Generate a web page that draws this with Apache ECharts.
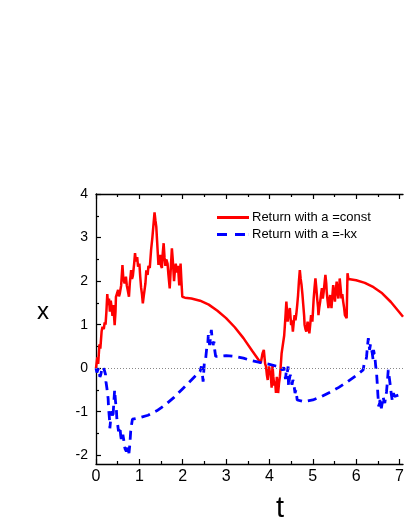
<!DOCTYPE html>
<html>
<head>
<meta charset="utf-8">
<script src="https://cdn.jsdelivr.net/npm/echarts@6.0.0/dist/echarts.min.js"></script>
<style>
html,body{margin:0;padding:0;background:#fff;}
#c{width:407px;height:527px;}
</style>
</head>
<body>
<div id="c"></div>
<script>
// Series 1: Return with a =const
var constT = [0.00,0.03,0.05,0.08,0.10,0.13,0.15,0.18,0.20,0.22,0.24,0.26,0.28,0.30,0.32,0.34,0.36,0.38,0.40,0.43,0.45,0.46,0.49,0.51,0.53,0.55,0.58,0.61,0.63,0.66,0.69,0.71,0.73,0.76,0.78,0.81,0.83,0.85,0.88,0.90,0.92,0.95,0.97,1.00,1.02,1.04,1.06,1.08,1.10,1.12,1.14,1.16,1.19,1.21,1.24,1.27,1.30,1.33,1.35,1.37,1.39,1.41,1.44,1.46,1.48,1.50,1.52,1.54,1.56,1.58,1.60,1.62,1.65,1.67,1.70,1.72,1.75,1.77,1.80,1.82,1.84,1.86,1.89,1.92,1.95,1.97,1.99,
  2.05,2.2,2.4,2.6,2.8,3.0,3.2,3.4,3.6,3.8,
  3.84,3.87,3.90,3.92,3.94,3.96,3.99,4.01,4.03,4.05,4.07,4.09,4.11,4.13,4.15,4.17,4.20,4.22,4.24,4.26,4.28,4.30,4.34,4.37,4.39,4.42,4.44,4.47,4.50,4.52,4.54,4.56,4.58,4.60,4.62,4.64,4.66,4.68,4.70,4.72,4.74,4.76,4.78,4.80,4.81,4.83,4.85,4.87,4.88,4.90,4.92,4.94,4.96,4.99,5.02,5.04,5.06,5.08,5.10,5.12,5.13,5.15,5.17,5.19,5.21,5.23,5.25,5.27,5.29,5.31,5.32,5.34,5.36,5.38,5.40,5.42,5.43,5.45,5.47,5.49,5.51,5.53,5.55,5.57,5.59,5.61,5.62,5.64,5.66,5.68,5.70,5.72,5.74,5.78,5.80,5.82,
  6.0,6.2,6.4,6.6,6.8,7.0,7.08];
var constX = [0.00,0.25,0.10,0.55,0.45,0.85,0.95,0.90,1.05,1.00,1.30,1.70,1.45,1.60,1.30,1.55,1.40,1.20,1.45,0.99,1.30,1.64,1.60,1.80,1.65,1.72,1.90,2.37,2.05,1.95,2.10,1.90,1.80,1.64,1.95,2.25,2.05,2.12,2.40,2.64,2.45,2.55,2.33,2.40,2.10,1.85,1.70,1.49,1.65,1.80,1.95,2.25,2.14,2.35,2.30,2.71,3.00,3.35,3.58,3.40,3.25,2.90,2.37,2.55,2.60,2.35,2.30,2.65,2.87,2.55,2.35,2.50,2.40,2.15,1.83,2.20,2.75,2.50,2.00,2.25,2.40,2.20,2.35,1.90,2.40,2.00,1.64,
  1.62,1.60,1.55,1.46,1.32,1.15,0.94,0.69,0.40,0.12,
  0.34,0.42,0.10,0.04,-0.15,-0.27,0.04,-0.10,-0.15,-0.45,0.07,-0.20,-0.40,-0.30,-0.57,-0.20,-0.57,-0.35,-0.20,0.05,0.34,0.38,0.75,1.20,1.53,1.07,1.25,1.38,0.99,1.10,0.84,1.05,1.22,1.10,1.25,1.45,1.68,2.00,2.25,2.05,1.91,1.70,1.45,1.20,1.00,0.90,0.84,1.00,1.07,0.95,0.80,1.00,1.22,1.07,1.60,1.85,2.06,1.85,1.60,1.40,1.22,1.40,1.53,1.70,1.84,1.60,1.75,1.95,2.14,1.95,1.76,1.55,1.38,1.55,1.68,1.50,1.38,1.65,1.91,1.70,1.53,1.80,1.99,1.75,1.60,1.85,2.06,1.85,1.60,1.70,1.53,1.40,1.22,1.15,2.18,2.05,
  2.02,1.96,1.86,1.72,1.52,1.28,1.18];

// Series 2: Return with a =-kx
var kxT = [0.00,0.02,0.04,0.06,0.07,0.09,0.11,0.13,0.16,0.18,0.20,0.22,0.23,0.25,0.26,0.28,0.29,0.31,0.32,0.34,0.36,0.38,0.39,0.41,0.43,0.45,0.47,0.48,0.50,0.52,0.55,0.57,0.59,0.62,0.64,0.65,0.67,0.70,0.73,0.76,0.78,0.80,0.82,0.84,
  1.0,1.2,1.4,1.6,1.8,2.0,2.2,2.35,
  2.40,2.43,2.45,2.47,2.50,2.53,2.56,2.58,2.59,2.62,2.64,2.66,2.68,2.70,2.72,2.74,2.76,2.8,
  3.0,3.2,3.4,3.6,3.8,4.0,4.15,4.25,
  4.28,4.30,4.33,4.35,4.37,4.39,4.41,4.43,4.44,4.46,4.48,4.50,4.52,4.54,4.56,4.59,4.61,4.64,
  4.8,5.0,5.2,5.4,5.6,5.8,6.0,6.16,
  6.18,6.20,6.22,6.24,6.26,6.28,6.30,6.31,6.33,6.35,6.37,6.39,6.40,6.43,6.45,6.47,6.49,6.50,6.52,6.54,6.55,6.58,6.60,6.62,6.64,6.66,6.68,6.70,6.72,6.74,6.76,6.79,6.81,6.83,6.86,6.88,6.90,7.08];
var kxX = [0.00,-0.10,-0.11,0.00,-0.04,-0.20,-0.15,-0.05,-0.10,0.00,0.04,-0.15,-0.31,-0.45,-0.53,-0.70,-0.92,-1.15,-1.38,-1.15,-0.99,-1.05,-1.15,-0.80,-0.50,-0.76,-0.95,-1.15,-1.30,-1.45,-1.34,-1.55,-1.68,-1.53,-1.65,-1.76,-1.85,-1.91,-1.80,-1.95,-1.76,-1.45,-1.30,-1.17,
  -1.14,-1.08,-0.98,-0.84,-0.67,-0.47,-0.27,-0.12,
  -0.08,0.04,-0.10,-0.31,0.15,0.23,0.53,0.60,0.76,0.53,0.70,0.88,0.65,0.53,0.61,0.40,0.27,0.30,
  0.29,0.27,0.23,0.17,0.13,0.09,0.05,0.03,
  0.00,-0.05,0.02,-0.11,-0.25,-0.05,-0.11,0.04,-0.42,-0.25,-0.15,-0.30,-0.38,-0.27,-0.35,-0.57,-0.50,-0.73,
  -0.77,-0.73,-0.65,-0.55,-0.44,-0.31,-0.17,-0.04,
  0.08,0.04,0.15,0.27,0.50,0.69,0.50,0.42,0.55,0.57,0.35,0.19,0.42,0.27,0.05,-0.11,-0.42,-0.60,-0.88,-0.80,-0.73,-0.92,-0.80,-0.65,-0.75,-0.80,-0.65,-0.54,-0.30,-0.04,-0.19,-0.42,-0.60,-0.73,-0.57,-0.65,-0.62,-0.58];

var xTicks = [0, 1, 2, 3, 4, 5, 6, 7];
var xMinorTicks = [0.5, 1.5, 2.5, 3.5, 4.5, 5.5, 6.5];
var yTicks = [-2, -1, 0, 1, 2, 3, 4];
var yMinorTicks = [-1.5, -0.5, 0.5, 1.5, 2.5, 3.5];
var seriesNames = ['Return with a =const', 'Return with a =-kx'];

function zip(a, b) { var r = []; for (var i = 0; i < a.length; i++) r.push([a[i], b[i]]); return r; }

var FONT = 'Liberation Sans, Arial, sans-serif';
var XMIN = 0, XMAX = 7.08, YMIN = -2.2, YMAX = 4;

function xAx(pos, ticks, len, showLabel, showLine) {
  return {
    type: 'value', position: pos, min: XMIN, max: XMAX,
    axisLine: { show: showLine, onZero: false, lineStyle: { color: '#000', width: 1.3 } },
    axisTick: { show: true, inside: true, length: len, customValues: ticks, lineStyle: { color: '#000', width: 1.2 } },
    axisLabel: { show: showLabel, customValues: ticks, color: '#000', fontSize: 16, fontFamily: FONT, margin: 5 },
    splitLine: { show: false }
  };
}
function yAx(ticks, len, showLabel, showLine) {
  return {
    type: 'value', position: 'left', min: YMIN, max: YMAX,
    axisLine: { show: showLine, onZero: false, lineStyle: { color: '#000', width: 1.3 } },
    axisTick: { show: true, inside: true, length: len, customValues: ticks, lineStyle: { color: '#000', width: 1.2 } },
    axisLabel: { show: showLabel, customValues: ticks, color: '#000', fontSize: 14, fontFamily: FONT, margin: 8 },
    splitLine: { show: false }
  };
}

var chart = echarts.init(document.getElementById('c'), null, { renderer: 'canvas' });
chart.setOption({
  animation: false,
  backgroundColor: '#fff',
  grid: { left: 96, right: 0, top: 194, bottom: 63, containLabel: false },
  xAxis: [
    xAx('bottom', xTicks, 5, true, true),
    xAx('bottom', xMinorTicks, 3, false, false),
    xAx('top', xTicks, 5, false, true),
    xAx('top', xMinorTicks, 3, false, false)
  ],
  yAxis: [
    yAx(yTicks, 5, true, true),
    yAx(yMinorTicks, 3, false, false)
  ],
  legend: {
    orient: 'vertical', left: 212, top: 206, itemWidth: 32, itemHeight: 10, itemGap: 4,
    textStyle: { fontSize: 13, fontFamily: FONT, color: '#000', padding: [0, 0, 0, -2] },
    data: [
      { name: seriesNames[0], icon: 'path://M0,0L32,0L32,3L0,3Z' },
      { name: seriesNames[1], icon: 'path://M0,0L10,0L10,3L0,3Z M18,0L28,0L28,3L18,3Z M31.9,0L32,0L32,3L31.9,3Z' }
    ]
  },
  graphic: [
    { type: 'text', left: 37, top: 300, style: { text: 'x', fontSize: 24, fontFamily: FONT, fill: '#000' } },
    { type: 'text', left: 276, top: 494, style: { text: 't', fontSize: 29, fontFamily: FONT, fill: '#000' } }
  ],
  series: [
    {
      name: seriesNames[0], type: 'line', xAxisIndex: 0, yAxisIndex: 0,
      data: zip(constT, constX), showSymbol: false, symbol: 'none', smooth: false,
      lineStyle: { color: '#ff0000', width: 2.5 }, itemStyle: { color: '#ff0000' },
      markLine: {
        silent: true, symbol: ['none', 'none'], label: { show: false },
        lineStyle: { color: '#888', width: 1, type: [1, 2] },
        data: [{ yAxis: 0 }], animation: false
      },
      z: 2
    },
    {
      name: seriesNames[1], type: 'line', xAxisIndex: 0, yAxisIndex: 0,
      data: zip(kxT, kxX), showSymbol: false, symbol: 'none', smooth: false,
      lineStyle: { color: '#0000ff', width: 2.8, type: [9, 6] }, itemStyle: { color: '#0000ff' },
      z: 3
    }
  ]
});
</script>
</body>
</html>
